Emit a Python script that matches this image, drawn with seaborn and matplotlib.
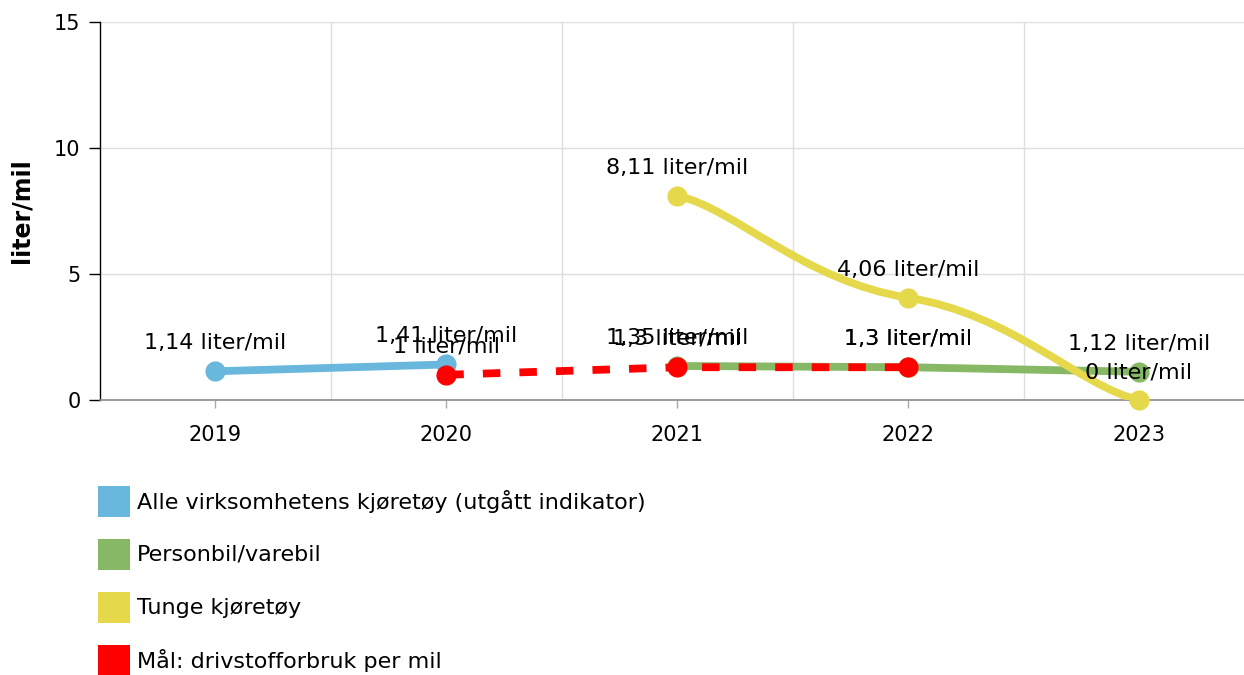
import numpy as np
import matplotlib
matplotlib.use("Agg")
import matplotlib.pyplot as plt
from matplotlib.path import Path
from matplotlib.patches import PathPatch, Rectangle
import seaborn as sns

# data
years = [2019, 2020, 2021, 2022, 2023]

alle_years = [2019, 2020]
alle_vals = [1.14, 1.41]
alle_labels = ["1,14 liter/mil", "1,41 liter/mil"]

person_years = [2021, 2022, 2023]
person_vals = [1.35, 1.30, 1.12]
person_labels = ["1,35 liter/mil", "1,3 liter/mil", "1,12 liter/mil"]

tunge_years = [2021, 2022, 2023]
tunge_vals = [8.11, 4.06, 0.0]
tunge_labels = ["8,11 liter/mil", "4,06 liter/mil", "0 liter/mil"]

maal_years = [2020, 2021, 2022]
maal_vals = [1.0, 1.3, 1.3]
maal_labels = ["1 liter/mil", "1,3 liter/mil", "1,3 liter/mil"]

series_names = ["Alle virksomhetens kjøretøy (utgått indikator)", "Personbil/varebil",
                "Tunge kjøretøy", "Mål: drivstofforbruk per mil"]
colors = ["#69b7dd", "#86b865", "#e5d84a", "#ff0000"]

sns.set_theme(style="white")
plt.rcParams['font.family'] = ['DejaVu Sans']
plt.rcParams['text.color'] = 'black'


# smooth curve through the points, bezier segments with flattened tangents
def spline_path(xs, ys, f_in=0.35, k_in=0.45, f_end=0.5, k_end=0.25):
    n = len(xs)
    slopes = [(ys[i + 1] - ys[i]) / (xs[i + 1] - xs[i]) for i in range(n - 1)]
    tang, hand = [], []
    for i in range(n):
        if i == 0:
            tang.append(f_end * slopes[0]); hand.append(k_end)
        elif i == n - 1:
            tang.append(f_end * slopes[-1]); hand.append(k_end)
        else:
            tang.append(f_in * (slopes[i - 1] + slopes[i]) / 2); hand.append(k_in)
    verts = [(xs[0], ys[0])]
    codes = [Path.MOVETO]
    for i in range(n - 1):
        dx = xs[i + 1] - xs[i]
        h0 = hand[i] * dx
        h1 = hand[i + 1] * dx
        verts += [(xs[i] + h0, ys[i] + tang[i] * h0),
                  (xs[i + 1] - h1, ys[i + 1] - tang[i + 1] * h1),
                  (xs[i + 1], ys[i + 1])]
        codes += [Path.CURVE4] * 3
    return Path(verts, codes)


fig = plt.figure(figsize=(12.44, 6.75), dpi=100)
ax = fig.add_axes([100 / 1244, 275 / 675, 1144 / 1244, 378 / 675])

lw = 5.6
ms = 14.5

sns.lineplot(x=alle_years, y=alle_vals, color=colors[0], linewidth=lw, marker="o",
             markersize=ms, markeredgewidth=0, ax=ax, zorder=3)
sns.lineplot(x=person_years, y=person_vals, color=colors[1], linewidth=lw, marker="o",
             markersize=ms, markeredgewidth=0, ax=ax, zorder=3)

ax.add_patch(PathPatch(spline_path(tunge_years, tunge_vals), facecolor="none",
                       edgecolor=colors[2], linewidth=lw, zorder=4, capstyle="round"))
sns.scatterplot(x=tunge_years, y=tunge_vals, color=colors[2], s=ms ** 2, linewidth=0,
                ax=ax, zorder=4, clip_on=False)

sns.lineplot(x=maal_years, y=maal_vals, color=colors[3], linewidth=lw,
             linestyle=(0, (2.25, 2.45)), ax=ax, zorder=5)
sns.scatterplot(x=maal_years, y=maal_vals, color=colors[3], s=ms ** 2, linewidth=0,
                ax=ax, zorder=5)

# data labels
for xs, vs, labs in [(alle_years, alle_vals, alle_labels), (person_years, person_vals, person_labels),
                     (tunge_years, tunge_vals, tunge_labels), (maal_years, maal_vals, maal_labels)]:
    for x, v, t in zip(xs, vs, labs):
        ax.annotate(t, (x, v), xytext=(0, 28), textcoords="offset pixels", ha="center",
                    va="center", fontsize=16, color="black", zorder=6, annotation_clip=False)

ax.set_xlim(2018.5, 2023.455)
ax.set_ylim(0, 15)
ax.set_yticks([0, 5, 10, 15])
ax.set_yticklabels(["0", "5", "10", "15"])
ax.set_xticks(years)
ax.set_xticklabels([str(y) for y in years])
ax.set_xticks([2019.5, 2020.5, 2021.5, 2022.5], minor=True)

ax.grid(True, axis="y", which="major", color="#dedede", linewidth=1)
ax.grid(True, axis="x", which="minor", color="#dedede", linewidth=1)
ax.grid(False, axis="x", which="major")
ax.set_axisbelow(True)

for s in ["top", "right"]:
    ax.spines[s].set_visible(False)
ax.spines["left"].set_color("black")
ax.spines["left"].set_linewidth(1)
ax.spines["bottom"].set_color("#8a8a8a")
ax.spines["bottom"].set_linewidth(1.2)

ax.tick_params(axis="y", which="major", length=8, width=1, color="black", direction="out",
               pad=6, labelsize=15, labelcolor="black", left=True)
ax.tick_params(axis="x", which="major", length=6, width=1, color="#aaaaaa", direction="out",
               pad=12, labelsize=15, labelcolor="black", bottom=True)
ax.tick_params(axis="x", which="minor", length=0)

ax.set_ylabel("liter/mil", fontsize=17, fontweight="bold", color="black")
ax.yaxis.set_label_coords(-0.058, 0.5)
ax.set_xlabel("")

# legend below the plot
leg_tops = [486, 539, 592, 645]
for name, c, top in zip(series_names, colors, leg_tops):
    fig.patches.append(Rectangle((98 / 1244, 1 - (top + 31) / 675), 32 / 1244, 31 / 675,
                                 transform=fig.transFigure, facecolor=c, edgecolor="none"))
    fig.text(137 / 1244, 1 - (top + 15.5) / 675, name, fontsize=16, color="black",
             ha="left", va="center")

fig.savefig("out.png", dpi=100)
